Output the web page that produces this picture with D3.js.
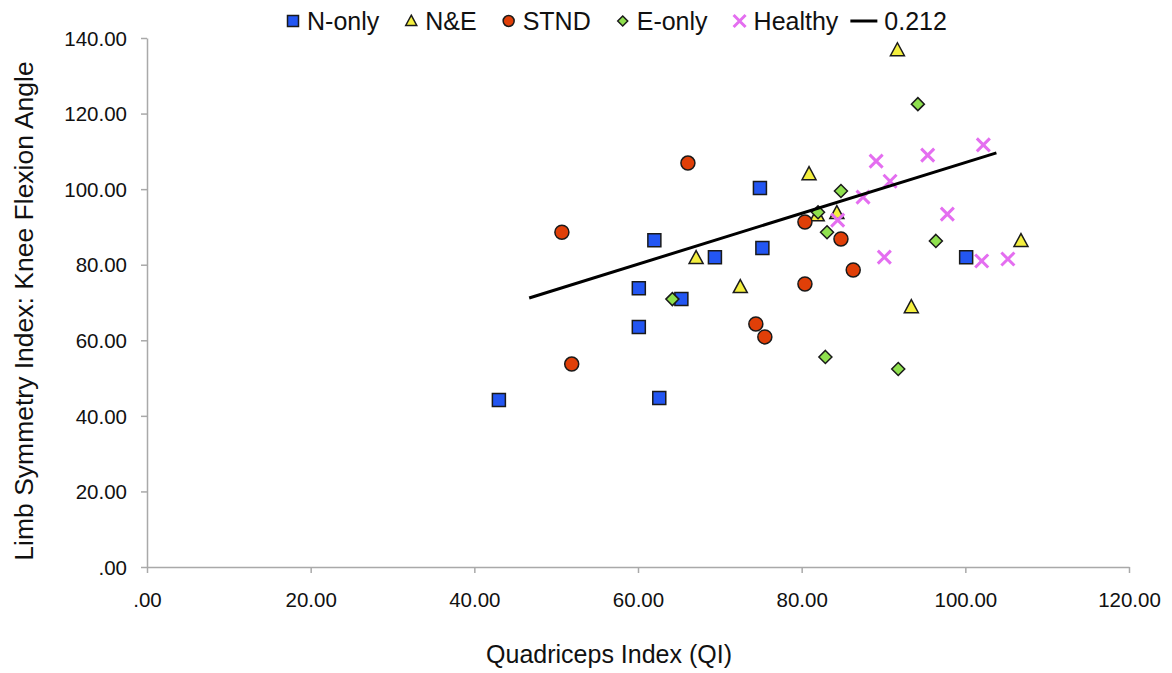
<!DOCTYPE html>
<html>
<head>
<meta charset="utf-8">
<script src="https://cdn.jsdelivr.net/npm/d3@7"></script>
<style>
  body { margin: 0; background: #fff; }
  svg { display: block; font-family: "Liberation Sans", Arial, sans-serif; }
</style>
</head>
<body>
<svg id="chart" width="1172" height="673"></svg>
<script>
// QI (x) vs LSI knee flexion angle (y), per group
const nOnlyX = [43.0, 60.1, 60.1, 62.0, 62.6, 65.3, 69.4, 74.9, 75.2, 100.1]
const nOnlyY = [44.2, 73.8, 63.5, 86.5, 44.7, 70.9, 82.0, 100.3, 84.4, 82.0]

const nAndEX = [91.7, 80.9, 67.1, 72.5, 81.9, 84.3, 93.4, 106.8]
const nAndEY = [136.8, 104.0, 81.8, 74.1, 93.1, 93.7, 68.8, 86.3]

const stndX = [66.1, 50.7, 51.9, 80.4, 80.4, 84.8, 86.3, 74.4, 75.5]
const stndY = [106.9, 88.6, 53.7, 91.3, 74.9, 86.8, 78.6, 64.3, 60.9]

const eOnlyX = [64.2, 94.2, 84.8, 82.0, 83.1, 96.4, 82.9, 91.8]
const eOnlyY = [70.9, 122.5, 99.5, 93.9, 88.6, 86.3, 55.6, 52.4]

const healthyX = [89.1, 90.8, 87.5, 84.4, 95.4, 102.2, 97.8, 90.1, 102.0, 105.2]
const healthyY = [107.4, 102.1, 97.9, 91.8, 109.0, 111.7, 93.4, 82.0, 81.0, 81.5]

// linear trendline end points, R² label
const trendX = [46.7, 103.8]
const trendY = [71.2, 109.6]
const trendLabel = "0.212"

const xTicks = [0, 20, 40, 60, 80, 100, 120]
const yTicks = [0, 20, 40, 60, 80, 100, 120, 140]

const seriesNames = ["N-only", "N&E", "STND", "E-only", "Healthy"]

const svg = d3.select("#chart")
const margin = { top: 38, right: 43, bottom: 106, left: 147 }
const width = +svg.attr("width")
const height = +svg.attr("height")

const x = d3.scaleLinear().domain([0, 120]).range([margin.left, width - margin.right])
const y = d3.scaleLinear().domain([0, 140]).range([height - margin.bottom, margin.top])

const fmt = function (d) {
	return d === 0 ? ".00" : d3.format(".2f")(d)
}

// shapes, size is roughly the marker width in px
function shapePath(kind, s) {
	const h = s / 2
	if (kind === "square") return `M${-h},${-h}H${h}V${h}H${-h}Z`
	if (kind === "triangle") return `M0,${-h * 1.05}L${h},${h * 0.8}L${-h},${h * 0.8}Z`
	if (kind === "diamond") return `M0,${-h}L${h},0L0,${h}L${-h},0Z`
	if (kind === "circle") return d3.symbol(d3.symbolCircle, Math.PI * h * h)()
	if (kind === "cross") return `M${-h},${-h}L${h},${h}M${h},${-h}L${-h},${h}`
}

const styles = {
	"N-only": { kind: "square", size: 13, fill: "#2356f2", legendSize: 11 },
	"N&E": { kind: "triangle", size: 14, fill: "#f4ef3f", legendSize: 11 },
	STND: { kind: "circle", size: 14, fill: "#e03f08", legendSize: 11 },
	"E-only": { kind: "diamond", size: 13, fill: "#8fe04e", legendSize: 10 },
	Healthy: { kind: "cross", size: 13, fill: "#e46ef0", legendSize: 12 },
}

const seriesData = {
	"N-only": d3.zip(nOnlyX, nOnlyY),
	"N&E": d3.zip(nAndEX, nAndEY),
	STND: d3.zip(stndX, stndY),
	"E-only": d3.zip(eOnlyX, eOnlyY),
	Healthy: d3.zip(healthyX, healthyY),
}

function drawMark(sel, name, big) {
	const st = styles[name]
	const s = big ? st.size : st.legendSize
	const p = sel.append("path").attr("d", shapePath(st.kind, s))
	if (st.kind === "cross") {
		p.attr("fill", "none").attr("stroke", st.fill).attr("stroke-width", 3)
	} else {
		p.attr("fill", st.fill).attr("stroke", "#1a1a1a").attr("stroke-width", 1.5)
	}
	return p
}

// axes
const axisColor = "#a9a9a9"
const xAxis = svg
	.append("g")
	.attr("transform", `translate(0,${y(0)})`)
	.call(d3.axisBottom(x).tickValues(xTicks).tickFormat(fmt).tickSize(6).tickSizeOuter(0))
const yAxis = svg
	.append("g")
	.attr("transform", `translate(${x(0)},0)`)
	.call(d3.axisLeft(y).tickValues(yTicks).tickFormat(fmt).tickSize(6).tickSizeOuter(0))

;[xAxis, yAxis].forEach(function (a) {
	a.select(".domain").attr("stroke", axisColor).attr("stroke-width", 1.5)
	a.selectAll(".tick line").attr("stroke", axisColor).attr("stroke-width", 1.5)
	a.selectAll(".tick text").attr("fill", "#111").style("font-size", "20.5px").style("font-family", "Liberation Sans, Arial, sans-serif")
})
xAxis.selectAll(".tick text").attr("dy", "1.52em")
yAxis.selectAll(".tick text").attr("x", -20).attr("dy", "0.35em")

// axis titles
svg
	.append("text")
	.attr("x", 609)
	.attr("y", 663)
	.attr("text-anchor", "middle")
	.style("font-size", "25px")
	.attr("fill", "#111")
	.text("Quadriceps Index (QI)")

svg
	.append("text")
	.attr("transform", `translate(33,311) rotate(-90)`)
	.attr("text-anchor", "middle")
	.style("font-size", "26.5px")
	.attr("fill", "#111")
	.text("Limb Symmetry Index: Knee Flexion Angle")

// points
seriesNames.forEach(function (name) {
	svg
		.append("g")
		.selectAll("g")
		.data(seriesData[name])
		.join("g")
		.attr("transform", (d) => `translate(${x(d[0])},${y(d[1])})`)
		.each(function () {
			drawMark(d3.select(this), name, true)
		})
})

// trendline
svg
	.append("line")
	.attr("x1", x(trendX[0]))
	.attr("y1", y(trendY[0]))
	.attr("x2", x(trendX[1]))
	.attr("y2", y(trendY[1]))
	.attr("stroke", "#000")
	.attr("stroke-width", 3)

// legend, laid out left to right
const legend = svg.append("g")
let cx = 293
const legY = 21
seriesNames.forEach(function (name) {
	const g = legend.append("g").attr("transform", `translate(${cx},${legY})`)
	drawMark(g, name, false)
	const t = legend
		.append("text")
		.attr("x", cx + 14)
		.attr("y", 30)
		.style("font-size", "25px")
		.attr("fill", "#111")
		.text(name)
	cx = cx + 14 + t.node().getComputedTextLength() + 32
})
const lineStart = cx - 32 + 12
legend
	.append("line")
	.attr("x1", lineStart)
	.attr("x2", lineStart + 27)
	.attr("y1", legY)
	.attr("y2", legY)
	.attr("stroke", "#000")
	.attr("stroke-width", 3)
legend
	.append("text")
	.attr("x", lineStart + 34)
	.attr("y", 30)
	.style("font-size", "25px")
	.attr("fill", "#111")
	.text(trendLabel)
</script>
</body>
</html>
